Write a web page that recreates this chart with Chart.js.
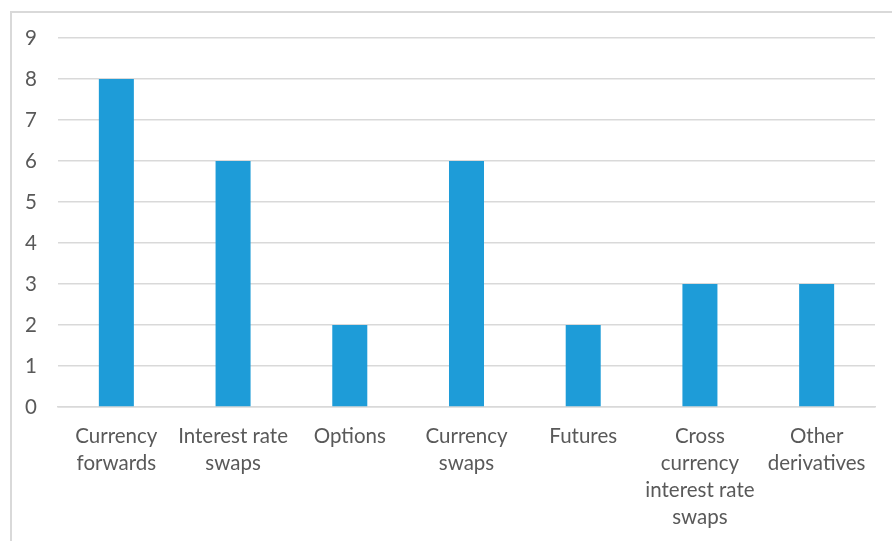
<!DOCTYPE html>
<html>
<head>
<meta charset="utf-8">
<script src="https://cdn.jsdelivr.net/npm/chart.js@4.4.1/dist/chart.umd.min.js"></script>
<style>
  html, body { margin: 0; padding: 0; background: #fff; }
  #wrap { position: relative; width: 892px; height: 541px; overflow: hidden; }
  #frame { position: absolute; left: 10px; top: 11px; width: 900px; height: 600px; border: 2px solid #D9D9D9; box-sizing: border-box; }
  canvas { position: absolute; left: 0; top: 0; }
</style>
</head>
<body>
<div id="wrap">
  <div id="frame"></div>
  <canvas id="c" width="892" height="541"></canvas>
</div>
<script>
const categories = [
  ["Currency", "forwards"],
  ["Interest rate", "swaps"],
  ["Options"],
  ["Currency", "swaps"],
  ["Futures"],
  ["Cross", "currency", "interest rate", "swaps"],
  ["Other", "derivatives"]
];
const values = [8, 6, 2, 6, 2, 3, 3];
const yTicks = [0, 1, 2, 3, 4, 5, 6, 7, 8, 9];

const FONT = "Lato, 'Open Sans', sans-serif";

new Chart(document.getElementById('c'), {
  type: 'bar',
  data: {
    labels: categories,
    datasets: [{
      data: values,
      backgroundColor: '#1E9CD8',
      borderWidth: 0,
      categoryPercentage: 1,
      barPercentage: 0.3
    }]
  },
  options: {
    responsive: false,
    animation: false,
    layout: { padding: { top: 38, right: 17, left: 0, bottom: 0 } },
    plugins: { legend: { display: false }, tooltip: { enabled: false } },
    scales: {
      x: {
        grid: { display: false, drawTicks: false },
        border: { display: true, color: '#D9D9D9', width: 1.5 },
        ticks: {
          color: '#595959',
          font: { family: FONT, size: 20.5, lineHeight: 1.32 },
          padding: 16,
          maxRotation: 0,
          autoSkip: false
        },
        afterFit: (s) => { s.height = 541 - 407; }
      },
      y: {
        min: 0,
        max: 9,
        afterBuildTicks: (s) => { s.ticks = yTicks.map(v => ({ value: v })); },
        grid: { color: '#D9D9D9', lineWidth: 1.5, drawTicks: false },
        border: { display: false },
        ticks: {
          color: '#595959',
          font: { family: FONT, size: 20.5 },
          padding: 21
        },
        afterFit: (s) => { s.width = 58; }
      }
    }
  }
});
</script>
</body>
</html>
